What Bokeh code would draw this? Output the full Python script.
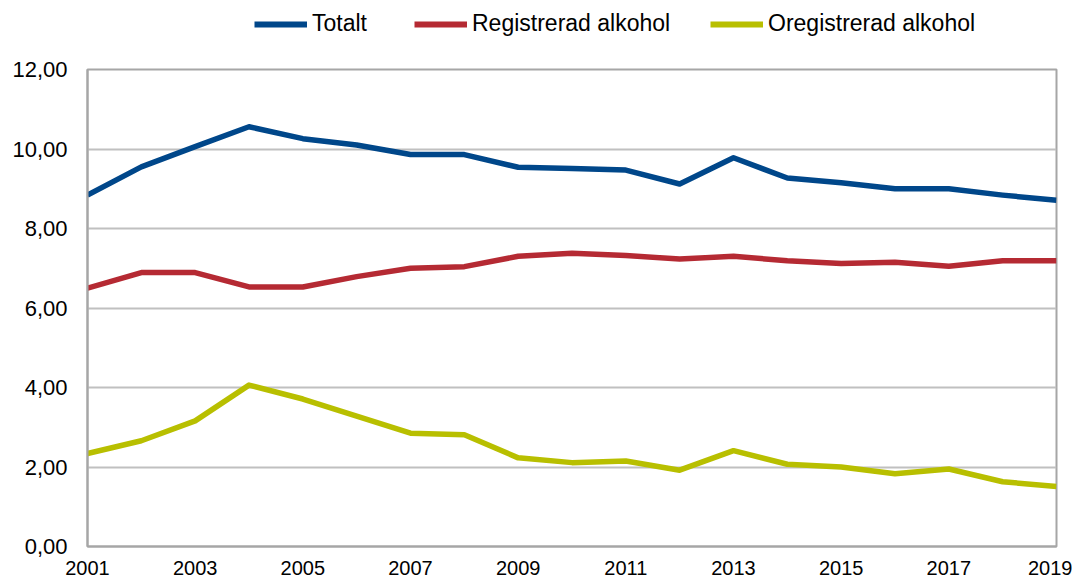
from bokeh.plotting import figure
from bokeh.layouts import column
from bokeh.models import FixedTicker, Legend, LegendItem, Range1d
from bokeh.embed import file_html
from bokeh.resources import INLINE

years = list(range(2001, 2020))
totalt = [8.84, 9.55, 10.06, 10.56, 10.26, 10.10, 9.86, 9.86, 9.54, 9.51, 9.47, 9.12, 9.78, 9.27, 9.15, 9.00, 9.00, 8.84, 8.71]
registrerad = [6.50, 6.89, 6.89, 6.53, 6.53, 6.79, 7.00, 7.04, 7.30, 7.38, 7.32, 7.23, 7.30, 7.19, 7.12, 7.15, 7.05, 7.19, 7.19]
oregistrerad = [2.34, 2.66, 3.16, 4.06, 3.71, 3.28, 2.85, 2.81, 2.23, 2.11, 2.15, 1.92, 2.41, 2.07, 2.00, 1.83, 1.95, 1.63, 1.51]

series_names = ["Totalt", "Registrerad alkohol", "Oregistrerad alkohol"]
series_colors = ["#00478a", "#b52a33", "#b8bf00"]

x_ticks = [2001, 2003, 2005, 2007, 2009, 2011, 2013, 2015, 2017, 2019]
y_ticks = [0, 2, 4, 6, 8, 10, 12]
y_labels = ["0,00", "2,00", "4,00", "6,00", "8,00", "10,00", "12,00"]

FONT = "Liberation Sans"
LINE_W = 5.5
TOTAL_W = 1072

# ---- main chart ----
p = figure(frame_width=969, frame_height=477, output_backend="svg", toolbar_location=None,
           title=None, x_range=Range1d(2001, 2019), y_range=Range1d(0, 12),
           min_border_left=87, min_border_right=TOTAL_W - 87 - 969,
           min_border_top=23, min_border_bottom=34)
p.background_fill_color = "white"
p.border_fill_color = "white"
p.outline_line_color = "#a6a6a6"
p.outline_line_width = 2

for vals, col in zip([totalt, registrerad, oregistrerad], series_colors):
    p.line(years, vals, line_color=col, line_width=LINE_W, line_join="round")

p.xaxis.ticker = FixedTicker(ticks=x_ticks)
p.yaxis.ticker = FixedTicker(ticks=y_ticks)
p.yaxis.major_label_overrides = {t: l for t, l in zip(y_ticks, y_labels)}
p.xaxis.major_label_overrides = {t: str(t) for t in x_ticks}
for ax in (p.xaxis, p.yaxis):
    ax.major_tick_line_color = None
    ax.minor_tick_line_color = None
    ax.axis_line_color = "#a6a6a6"
    ax.axis_line_width = 2
    ax.major_label_text_font = FONT
    ax.major_label_text_color = "black"
p.yaxis.major_label_text_font_size = "22px"
p.xaxis.major_label_text_font_size = "20px"
p.yaxis.major_label_standoff = 14
p.xaxis.major_label_standoff = 8

p.xgrid.grid_line_color = None
p.ygrid.grid_line_color = "#c0c0c0"
p.ygrid.grid_line_width = 2

# ---- legend strip (same series, drawn outside its visible range) ----
leg = figure(width=TOTAL_W, height=46, output_backend="svg", toolbar_location=None,
             title=None, x_range=Range1d(0, 1), y_range=Range1d(0, 1),
             x_axis_location=None, y_axis_location=None, min_border=0)
leg.outline_line_color = None
leg.xgrid.grid_line_color = None
leg.ygrid.grid_line_color = None
leg.background_fill_color = "white"
leg.border_fill_color = "white"

legend_x = [167, 327, 623]
for vals, name, col, lx in zip([totalt, registrerad, oregistrerad], series_names, series_colors, legend_x):
    r = leg.line(years, vals, line_color=col, line_width=LINE_W + 0.5)
    lg = Legend(items=[LegendItem(label=name, renderers=[r])], location=(lx, 9),
                orientation="horizontal", glyph_width=53, glyph_height=26, label_standoff=5,
                padding=0, margin=0, border_line_color=None, background_fill_alpha=0,
                label_text_font=FONT, label_text_font_size="23px", label_text_color="black",
                label_height=26)
    leg.add_layout(lg, "center")

layout = column(leg, p, spacing=0)
open("out.html", "w").write(file_html(layout, INLINE))
